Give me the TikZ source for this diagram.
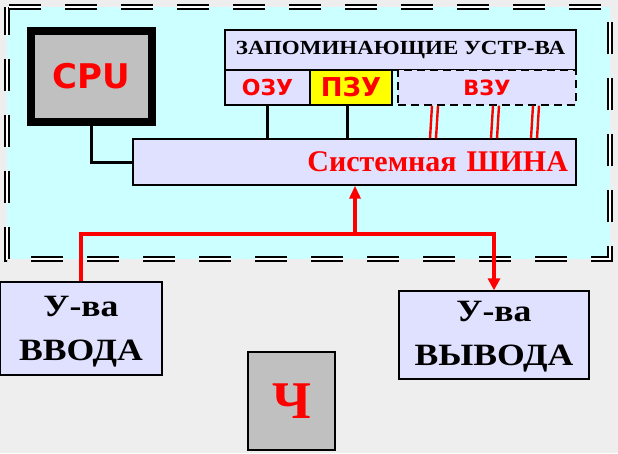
\documentclass[tikz,border=0pt]{standalone}
\usepackage{fontspec}
\setmainfont{Liberation Serif}
\newfontfamily\heavyfont{DejaVu Sans}
\newfontfamily\wideserif[FakeStretch=1.15]{Liberation Serif}
\usepackage{tikz}
\usetikzlibrary{arrows.meta, calc}
\definecolor{bgGray}{HTML}{EEEEEE}
\definecolor{pcCyan}{HTML}{CCFFFF}
\definecolor{boxLav}{HTML}{E0E0FF}
\definecolor{cpuGray}{HTML}{C0C0C0}
\definecolor{busRed}{HTML}{FF0000}
\definecolor{romYellow}{HTML}{FFFF00}

\tikzset{
  unitbox/.style={draw=black, line width=1.3pt, fill=boxLav, inner sep=0pt},
  memfont/.style={font=\heavyfont\bfseries\fontsize{#1}{#1}\selectfont, text=busRed},
  bigserif/.style={font=\wideserif\bfseries\fontsize{31}{43}\selectfont, align=center},
  blackwire/.style={line width=3pt},
  redwire/.style={busRed, line width=3.2pt},
  vzulink/.style={busRed, line width=2.4pt},
  frameline/.style={line width=2.4pt, double=white, double distance=1.8pt,
    dash pattern=on 32pt off 24pt, dash phase=4pt},
}

\begin{document}
\begin{tikzpicture}[x=1pt, y=-1pt]
    \useasboundingbox (0,0) rectangle (618,453);
    % Background
    \fill[bgGray] (0,0) rectangle (618,453);
    % Computer frame
    \fill[pcCyan] (7,7) rectangle (610,259);
    \draw[frameline] (7,7) rectangle (610,259);
    % Processor
    \node[draw=black, line width=8pt, fill=cpuGray, inner sep=0pt,
      minimum width=121pt, minimum height=91pt, memfont=34] (cpu)
      at (91.5,76.5) {CPU};
    % Memory units
    \node[unitbox, minimum width=351pt, minimum height=40pt,
      font=\wideserif\bfseries\fontsize{20}{20}\selectfont] (memtitle)
      at (400.5,50) {ЗАПОМИНАЮЩИЕ УСТР-ВА};
    \node[unitbox, minimum width=85pt, minimum height=35pt, memfont=22] (ozu)
      at (267.5,87.5) {ОЗУ};
    \node[unitbox, fill=romYellow, minimum width=82pt, minimum height=35pt,
      memfont=26] (pzu) at (351,87.5) {ПЗУ};
    \node[unitbox, dash pattern=on 8pt off 5pt, minimum width=178pt,
      minimum height=35pt, memfont=21] (vzu) at (487,87.5) {ВЗУ};
    % System bus
    \node[unitbox, minimum width=443pt, minimum height=46pt, text width=427pt,
      align=right, text=busRed, font=\bfseries\fontsize{30}{30}\selectfont]
      (bus) at (354.5,162) {Системная ШИНА};
    % Peripheral devices
    \node[unitbox, minimum width=162pt, minimum height=93pt] (vvod)
      at (81,328.5) {};
    \node[bigserif] (vvodtext) at ([yshift=-3pt]vvod.center) {У-ва\\[1pt]ВВОДА};
    \node[unitbox, minimum width=190pt, minimum height=88pt] (vyvod)
      at (494,335) {};
    \node[bigserif] (vyvodtext) at ([yshift=-2pt]vyvod.center) {У-ва\\[1pt]ВЫВОДА};
    \node[draw=black, line width=1.3pt, fill=cpuGray, minimum width=87pt,
      minimum height=98pt, text=busRed,
      font=\bfseries\fontsize{53}{53}\selectfont] (chbox) at (291.5,401) {Ч};
    % Black links
    \draw[blackwire] (cpu.south) |- (bus.west);
    \draw[blackwire] (ozu.south) -- (ozu.south |- bus.north);
    \draw[blackwire] ($(pzu.south)+(-4,0)$) -- ($(pzu.south |- bus.north)+(-4,0)$);
    % External memory links
    \foreach \x in {432,438,493,499,533,539}
      \draw[vzulink] (vzu.south -| \x,0) -- ($(bus.north -| \x,0)+(-2,0)$);
    % Input / output path
    \coordinate (jn) at (355,234);
    \draw[redwire, -{Triangle[length=12pt, width=12pt]}]
      (vvod.north) |- (jn) -| (vyvod.north);
    \draw[redwire, -{Triangle[length=13pt, width=11pt]}]
      (jn) -- (jn |- bus.south);
\end{tikzpicture}
\end{document}
